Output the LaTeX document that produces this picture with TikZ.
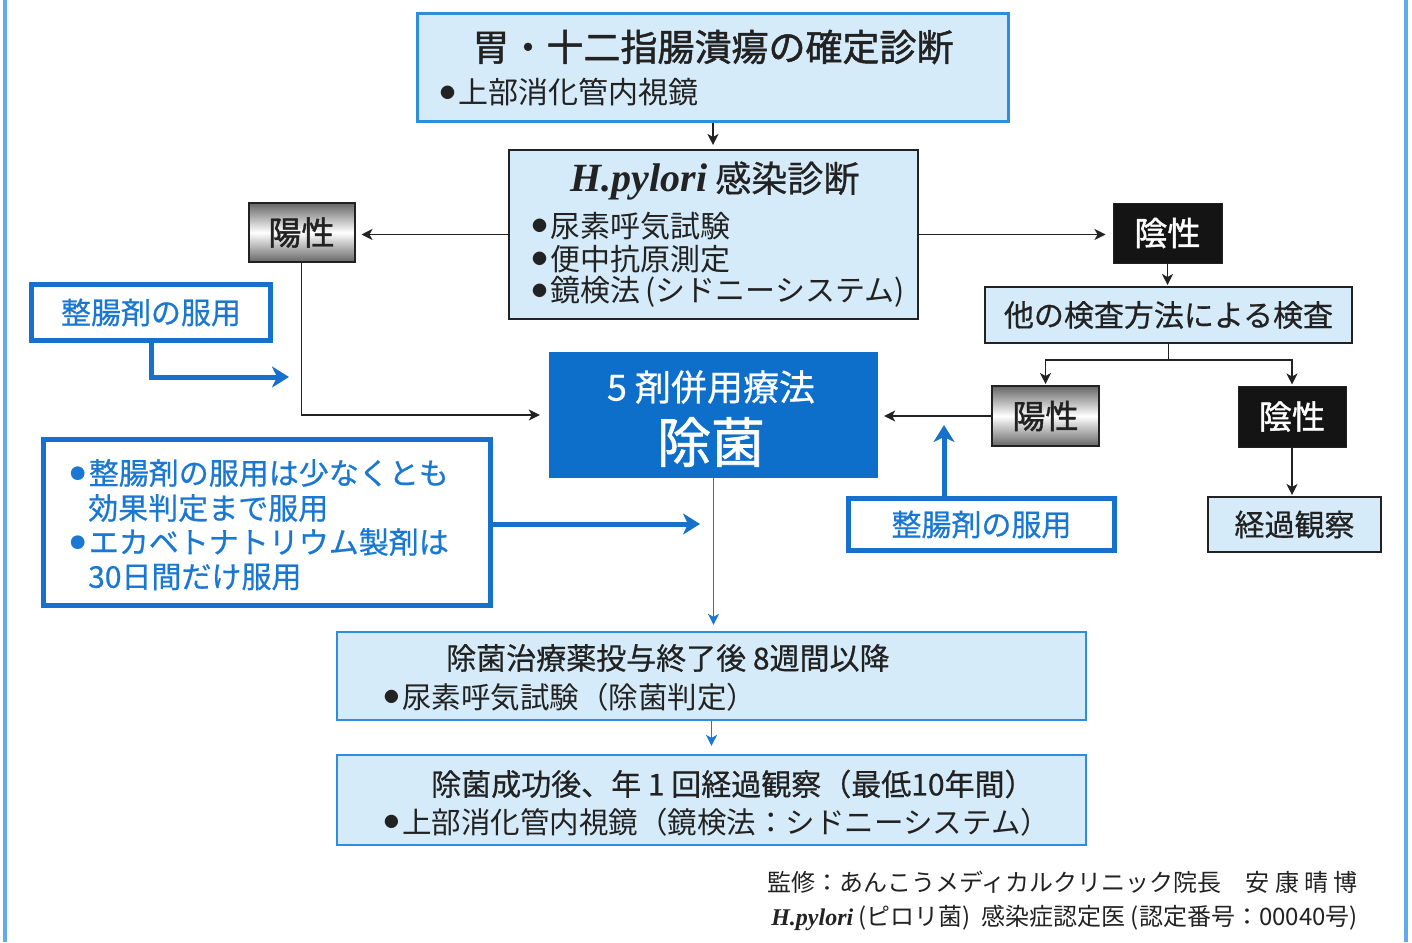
\documentclass[tikz,border=0pt]{standalone}
\usepackage{fontspec}
\setmainfont{Noto Sans CJK JP}
\newfontfamily\jpm[FakeBold=0.6]{Noto Sans CJK JP}
\newfontfamily\jpmb[FakeBold=1.3]{Noto Sans CJK JP}
\newfontfamily\tms{Liberation Serif}
\usetikzlibrary{arrows.meta}
\definecolor{lblue}{HTML}{D6EBF9}
\definecolor{bblue}{HTML}{2E8DDF}
\definecolor{jblue}{HTML}{0E6FCB}
\definecolor{tblue}{HTML}{1A78D2}
\definecolor{wblue}{HTML}{1670CC}
\definecolor{frameblue}{HTML}{62ABEB}
\definecolor{dk}{HTML}{222222}
\newcommand{\fs}[1]{\fontsize{#1}{#1}\selectfont}
\newcommand{\bul}{\makebox[0.62em][l]{\raisebox{0.18em}{\scalebox{0.5}{●}}}}
\newcommand{\hpy}{{\tms\bfseries\itshape H.pylori}}
\tikzset{
  box/.style={inner sep=0pt, anchor=center},
  lbbox/.style={box, draw=bblue, fill=lblue, line width=2.2pt},
  dkbox/.style={box, draw=dk, fill=lblue, line width=2pt},
  posbox/.style={box, draw=dk, line width=2pt, top color=black!60, bottom color=black!60, middle color=white, font=\fs{33}\jpmb, text=dk},
  negbox/.style={box, draw=dk, fill=black!92, line width=1pt, font=\fs{33}\jpmb, text=white},
  wbbox/.style={box, draw=wblue, fill=white, line width=5pt, text=tblue},
  jbox/.style={box, fill=jblue},
  txt/.style={inner sep=0pt, text=dk},
  btxt/.style={inner sep=0pt, text=tblue, font=\fs{30}, anchor=west},
  arr/.style={draw=dk, line width=1.5pt, -{Stealth[length=11pt,width=11pt,inset=3pt]}},
  blarr/.style={draw=tblue, line width=1.8pt, -{Stealth[length=11pt,width=11pt,inset=3pt]}},
  barr/.style={draw=wblue, line width=5pt, -{Stealth[length=17pt,width=21pt,inset=5pt]}},
  frameline/.style={draw=frameblue, line width=4pt}
}
\begin{document}
\begin{tikzpicture}[x=1pt,y=-1pt]
\useasboundingbox (0,0) rectangle (1412,942);
% frame
\draw[frameline] (5,0) -- (5,942);
\draw[frameline] (1406,0) -- (1406,942);

% top box
\node[lbbox, minimum width=591, minimum height=108] (tb) at (713,67.5) {};
\node[txt, font=\fs{37}\jpmb] (tbt) at (713,47) {胃・十二指腸潰瘍の確定診断};
\node[txt, font=\fs{30}, anchor=west] (tbb) at (440,92) {\bul 上部消化管内視鏡};

% H.pylori box
\node[dkbox, minimum width=409, minimum height=169] (hp) at (713.5,234.5) {};
\node[txt, font=\fs{36}\jpm] (hpt) at (715,181) {\fs{40}\hpy\fs{36} 感染診断};
\node[txt, font=\fs{30}, anchor=west] (hp1) at (532,226) {\bul 尿素呼気試験};
\node[txt, font=\fs{30}, anchor=west] (hp2) at (532,259) {\bul 便中抗原測定};
\node[txt, font=\fs{30}, anchor=west] (hp3) at (532,292) {\bul 鏡検法\,(シドニーシステム)};

% positive / negative
\node[posbox, minimum width=106, minimum height=59] (posL) at (301.5,232.5) {陽性};
\node[negbox, minimum width=109, minimum height=60] (negT) at (1167.5,233) {陰性};
\node[dkbox, minimum width=367, minimum height=56, font=\fs{30}\jpm, text=dk] (other) at (1168.5,315) {他の検査方法による検査};
\node[posbox, minimum width=107, minimum height=60] (posR) at (1045.5,416) {陽性};
\node[negbox, minimum width=108, minimum height=61] (negB) at (1292,416.5) {陰性};
\node[dkbox, minimum width=173, minimum height=55, font=\fs{30}\jpm, text=dk] (keika) at (1294.5,524.5) {経過観察};

% seichouzai boxes
\node[wbbox, minimum width=239, minimum height=56, font=\fs{30}\jpm] (zL) at (151,312.5) {整腸剤の服用};
\node[wbbox, minimum width=266, minimum height=52, font=\fs{30}\jpm] (zR) at (981.5,524.5) {整腸剤の服用};

% jokin
\node[jbox, minimum width=329, minimum height=126] (jokin) at (713.5,415) {};
\node[txt, text=white, font=\fs{36}\jpm] (jk1) at (711,387) {5 剤併用療法};
\node[txt, text=white, font=\fs{54}\jpmb] (jk2) at (711,442) {除菌};

% note box
\node[wbbox, minimum width=447, minimum height=166] (note) at (267,522.5) {};
\node[btxt] (n1) at (70,473) {\jpm\bul 整腸剤の服用は少なくとも};
\node[btxt] (n2) at (88,508) {\jpm 効果判定まで服用};
\node[btxt] (n3) at (70,542) {\jpm\bul エカベトナトリウム製剤は};
\node[btxt] (n4) at (88,577) {\jpm 30日間だけ服用};

% bottom boxes
\node[lbbox, minimum width=749, minimum height=88] (b1) at (711.5,676) {};
\node[txt, font=\fs{30}\jpm, anchor=west] (b1t) at (446,658) {除菌治療薬投与終了後 8週間以降};
\node[txt, font=\fs{29.5}, anchor=west] (b1b) at (384,697) {\bul 尿素呼気試験（除菌判定）};
\node[lbbox, minimum width=749, minimum height=90] (b2) at (711.5,800) {};
\node[txt, font=\fs{30}\jpm, anchor=west] (b2t) at (431,784) {除菌成功後、年 1 回経過観察（最低10年間）};
\node[txt, font=\fs{29.5}, anchor=west] (b2b) at (384,822) {\bul 上部消化管内視鏡（鏡検法：シドニーシステム）};

% footer
\node[txt, font=\fs{24}, anchor=east] (f1) at (1358,882) {監修：あんこうメディカルクリニック院長\quad 安 康 晴 博};
\node[txt, font=\fs{24}, anchor=east] (f2) at (1358,918) {\hpy\ (ピロリ菌)\ \ 感染症認定医\ (認定番号：00040号)};

% connectors
\draw[arr, shorten >=4pt] (tb.south) -- (tb.south |- hp.north);
\draw[arr, shorten >=6pt] (hp.west) -- (hp.west -| posL.east);
\draw[arr, shorten >=7pt] (hp.east) -- (hp.east -| negT.west);
\draw[arr, shorten >=1pt] (negT.south) -- (negT.south |- other.north);
\draw[arr, shorten >=1pt] (other.south) -- ++(0,16) -| (posR.north);
\draw[arr, shorten >=1pt] (other.south) -- ++(0,16) -| (negB.north);
\draw[arr, shorten >=1pt] (negB.south) -- (negB.south |- keika.north);
\draw[arr, shorten >=6pt] (posR.west) -- (posR.west -| jokin.east);
\draw[arr, shorten >=9pt] (posL.south) |- (jokin.west);
\draw[blarr, shorten >=6pt] (jokin.south) -- (jokin.south |- b1.north);
\draw[blarr, shorten >=8pt] (b1.south) -- (b1.south |- b2.north);

\coordinate (zLend) at (289,377);
\coordinate (noteEnd) at (700,524);
\coordinate (zRend) at (944,425);
\draw[barr] (zL.south) |- (zLend);
\draw[barr] (noteEnd -| note.east) -- (noteEnd);
\draw[barr] (zRend |- zR.north) -- (zRend);
\end{tikzpicture}
\end{document}
